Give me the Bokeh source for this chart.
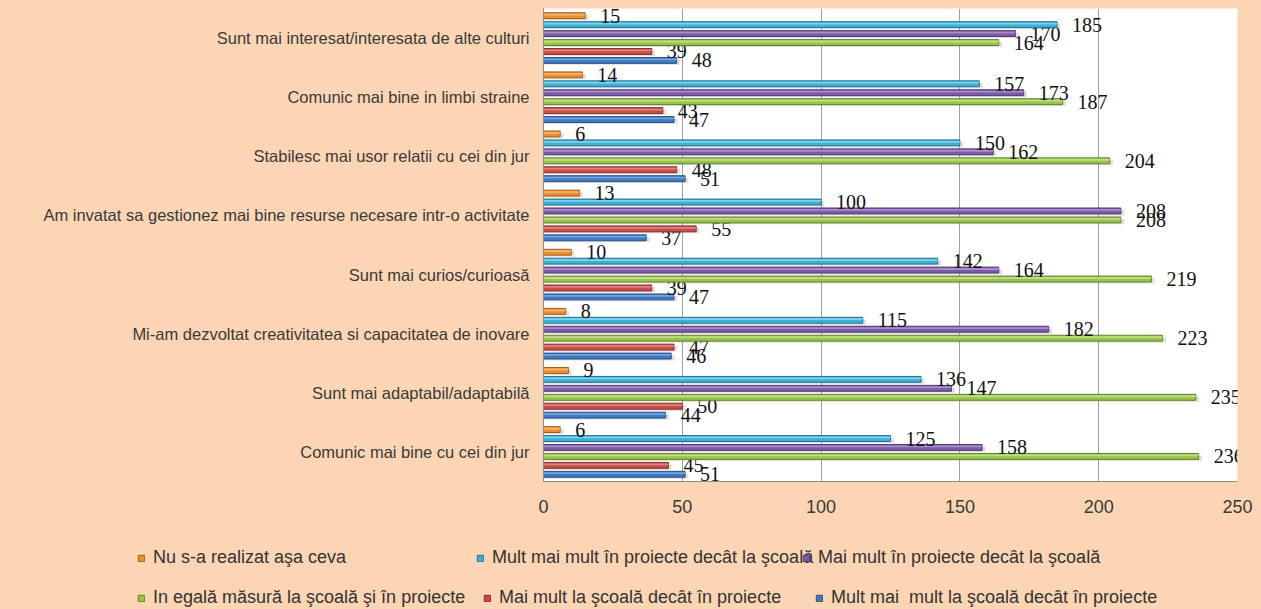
from bokeh.plotting import figure
from bokeh.models import ColumnDataSource, Legend, LegendItem, FixedTicker, Range1d
from bokeh.transform import dodge
from bokeh.core.properties import value
from bokeh.embed import file_html
from bokeh.resources import INLINE

# Categories, bottom to top
categories = [
    "Comunic mai bine cu cei din jur",
    "Sunt mai adaptabil/adaptabilă",
    "Mi-am dezvoltat creativitatea si capacitatea de inovare",
    "Sunt mai curios/curioasă",
    "Am invatat sa gestionez mai bine resurse necesare intr-o activitate",
    "Stabilesc mai usor relatii cu cei din jur",
    "Comunic mai bine in limbi straine",
    "Sunt mai interesat/interesata de alte culturi",
]

series_names = [
    "Mult mai  mult la şcoală decât în proiecte",
    "Mai mult la şcoală decât în proiecte",
    "In egală măsură la şcoală şi în proiecte",
    "Mai mult în proiecte decât la şcoală",
    "Mult mai mult în proiecte decât la şcoală",
    "Nu s-a realizat aşa ceva",
]

mult_scoala = [51, 44, 46, 47, 37, 51, 47, 48]
mai_scoala = [45, 50, 47, 39, 55, 48, 43, 39]
egal = [236, 235, 223, 219, 208, 204, 187, 164]
mai_proiecte = [158, 147, 182, 164, 208, 162, 173, 170]
mult_proiecte = [125, 136, 115, 142, 100, 150, 157, 185]
nu_realizat = [6, 9, 8, 10, 13, 6, 14, 15]

series_values = [mult_scoala, mai_scoala, egal, mai_proiecte, mult_proiecte, nu_realizat]

x_ticks = [0, 50, 100, 150, 200, 250]

colors = ["#4079C2", "#C84E4A", "#99C44C", "#7C5AA6", "#3BB1D8", "#E98F30"]
dark = ["#25528A", "#8A2C2A", "#5F8428", "#523A75", "#1E7593", "#A75E16"]
light = ["#8DB4E6", "#E89896", "#CDE79E", "#B9A2D8", "#A3DDF0", "#F8C38C"]
offsets = [-0.378, -0.227, -0.076, 0.076, 0.227, 0.378]

PEACH = "#FCD5B4"
SANS = "Liberation Sans"

p = figure(
    width=1261, height=520,
    y_range=categories,
    x_range=Range1d(0, 250),
    output_backend="svg", toolbar_location=None,
    min_border_left=543, min_border_right=24,
    min_border_top=8, min_border_bottom=39,
)
p.background_fill_color = "white"
p.border_fill_color = PEACH
p.outline_line_color = None

for i, (name, vals) in enumerate(zip(series_names, series_values)):
    src = ColumnDataSource(dict(cat=categories, v=vals, lbl=[str(v) for v in vals],
                                sh=[v + 1.2 for v in vals]))
    off = offsets[i]
    # shadow
    p.hbar(y=dodge("cat", off - 0.03, range=p.y_range), left=0.5, right="sh", height=0.09,
           source=src, fill_color="#7A6A60", fill_alpha=0.22, line_color=None)
    p.hbar(y=dodge("cat", off, range=p.y_range), left=0, right="v", height=0.1,
           source=src, fill_color=colors[i], line_color=dark[i], line_width=1)
    # highlight stripe
    p.hbar(y=dodge("cat", off + 0.018, range=p.y_range), left=0, right="v", height=0.03,
           source=src, fill_color=light[i], fill_alpha=0.7, line_color=None)
    p.text(x="v", y=dodge("cat", off, range=p.y_range), text="lbl", source=src,
           x_offset=15, text_baseline="middle", text_align="left",
           text_font=value("Liberation Serif"), text_font_size="20px",
           text_color="#111111")

# axes
p.xaxis.ticker = FixedTicker(ticks=x_ticks)
p.xaxis.major_label_text_font = SANS
p.xaxis.major_label_text_font_size = "18px"
p.xaxis.major_label_text_color = "#3A3A3A"
p.xaxis.major_tick_line_color = None
p.xaxis.minor_tick_line_color = None
p.xaxis.axis_line_color = "#8C8C8C"
p.xaxis.major_label_standoff = 12

p.yaxis.major_label_text_font = SANS
p.yaxis.major_label_text_font_size = "16.5px"
p.yaxis.major_label_text_color = "#3A3A3A"
p.yaxis.major_tick_line_color = None
p.yaxis.axis_line_color = "#8C8C8C"
p.yaxis.major_label_standoff = 8

p.xgrid.grid_line_color = "#A0A0A0"
p.xgrid.ticker = FixedTicker(ticks=x_ticks)
p.ygrid.grid_line_color = None

# legend strip (separate root so its frame spans the full width)
p2 = figure(width=1261, height=89, x_range=Range1d(0, 1), y_range=Range1d(0, 1),
            x_axis_type=None, y_axis_type=None, output_backend="svg",
            toolbar_location=None, min_border=0)
p2.background_fill_color = PEACH
p2.border_fill_color = PEACH
p2.outline_line_color = None
p2.grid.visible = False

# (series index, x of marker, bottom y of item)
legend_pos = [
    (5, 137, 41), (4, 476, 41), (3, 802, 41),
    (2, 137, 1), (1, 483, 1), (0, 815, 1),
]
for k, lx, ly in legend_pos:
    # legend-only renderer, placed outside the visible range
    r = p2.hbar(y=[0.5], left=[5], right=[6], height=0.1,
                fill_color=colors[k], line_color=dark[k])
    lg = Legend(items=[LegendItem(label=series_names[k], renderers=[r])],
                location=(lx, ly))
    lg.background_fill_alpha = 0
    lg.border_line_color = None
    lg.padding = 0
    lg.margin = 0
    lg.label_height = 18
    lg.glyph_height = 8
    lg.glyph_width = 8
    lg.label_standoff = 8
    lg.label_text_font = SANS
    lg.label_text_font_size = "18px"
    lg.label_text_color = "#333333"
    lg.label_text_baseline = "middle"
    p2.add_layout(lg, "center")

html = file_html([p, p2], INLINE)
css = ("<style>html, body { background-color: %s !important; margin: 0 !important; "
       "padding: 0 !important; line-height: 0; }</style></head>" % PEACH)
html = html.replace("</head>", css, 1)
open("out.html", "w").write(html)
